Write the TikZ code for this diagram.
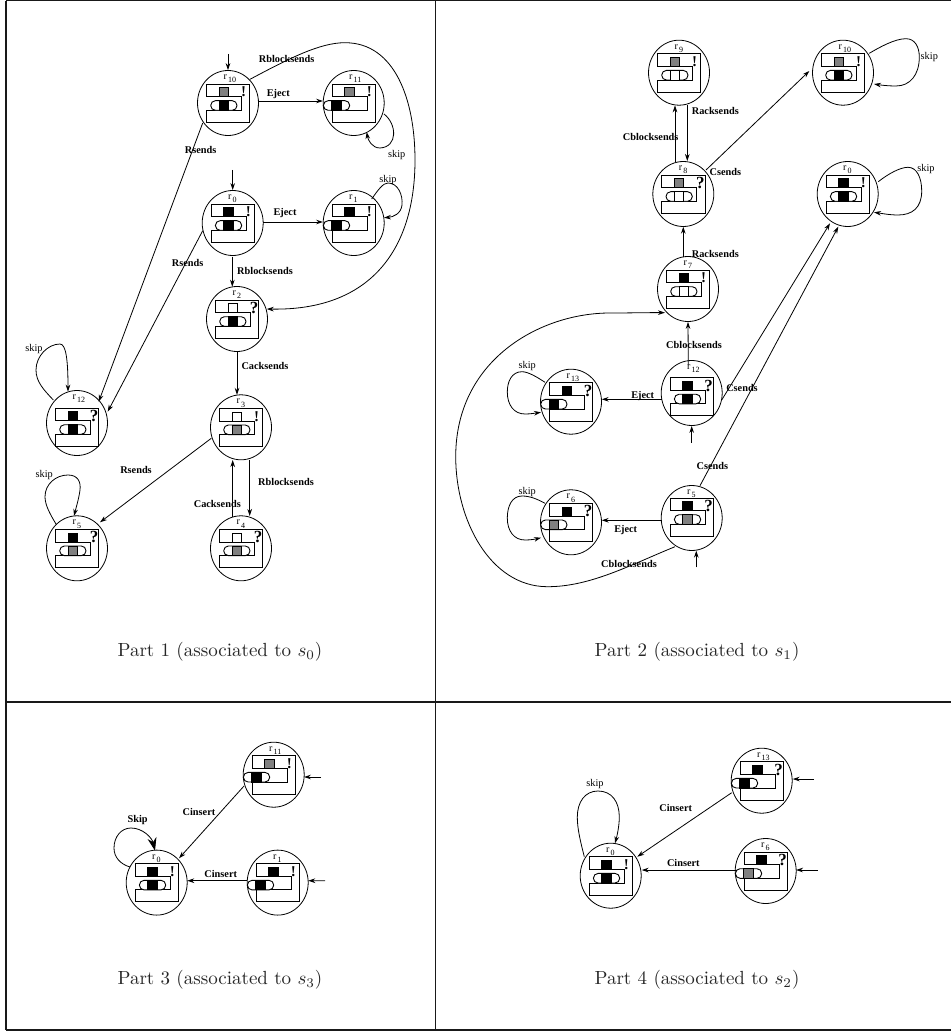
\documentclass[tikz,border=0pt]{standalone}
\usepackage{fontspec}
\newfontfamily\tms{Liberation Serif}
\usetikzlibrary{arrows.meta,calc,shapes.geometric}
\tikzset{
  statecirc/.style={draw,ellipse,minimum width=61pt,minimum height=65pt,inner sep=0pt,line width=.8pt},
  wire/.style={line width=.9pt},
  arr/.style={line width=.8pt,-{Stealth[length=7pt,width=4.6pt]}},
  bigarr/.style={line width=.8pt,-{Stealth[length=13pt,width=9pt]}},
  lab/.style={font=\tms\fontsize{10.3}{12}\selectfont\bfseries,inner sep=0pt},
  skiplab/.style={font=\tms\fontsize{10.3}{12}\selectfont,inner sep=0pt},
  caption/.style={font=\fontsize{10}{12}\selectfont,scale=1.9,transform shape,inner sep=0pt,text=black!85},
  frameline/.style={line width=1.4pt,draw=black!90},
}
% name, x, y, index, top square, capsule square, mark, capsule shift, vertical shift
\newcommand\St[9]{%
  \node[statecirc] (#1) at (#2,#3) {};
  \begin{scope}[shift={(#2,#3)}]
    \begin{scope}[shift={(0,#9)}]
      \draw[wire] (-21.7,-19) -- (21.7,-19) -- (21.7,19.3) -- (-21.7,19.3) -- (-21.7,7.3) -- (13.3,7.3) -- (13.3,-6.3) -- (-21.7,-6.3) -- cycle;
      \draw[wire,fill=#5] (-9,-15.3) rectangle (0.3,-6.3);
      \begin{scope}[shift={(#8,0)}]
        \draw[wire,fill=white,rounded corners=4.7pt] (-17.3,-2.3) rectangle (9,7.3);
        \draw[wire,fill=#6] (-9,-2.3) rectangle (0.3,7.3);
      \end{scope}
      \node[inner sep=0pt,font=\tms\bfseries] (#1m) at (#7) {\ifnum\pdfstrcmp{#7}{15.7,-11}=0 \fontsize{15}{15}\selectfont !\else \fontsize{17}{17}\selectfont ?\fi};
    \end{scope}
    \node[inner sep=0pt,anchor=base west,font=\tms\fontsize{10}{10}\selectfont] (#1t) at (-4.7,-23.4) {r\raisebox{-3.2pt}{\kern1.2pt\fontsize{8}{8}\selectfont #4}};
  \end{scope}
}
\begin{document}
\begin{tikzpicture}[x=1pt,y=-1pt]
\useasboundingbox (0,0) rectangle (951,1032);
% frame
\coordinate (fa) at (6,0.8);
\coordinate (fb) at (951,0.8);
\coordinate (fc) at (6,1030);
\coordinate (fd) at (951,1030);
\coordinate (fe) at (435.3,0.8);
\coordinate (ff) at (435.3,1030);
\coordinate (fg) at (6,702);
\coordinate (fh) at (951,702);
\draw[frameline,line width=1.7pt] (fa) -- (fc);
\draw[frameline] (fa) -- (fb) (fc) -- (fd) (fe) -- (ff);
\draw[frameline,line width=2.2pt] (fg) -- (fh);
% Part 1
\St{a10}{228}{103}{10}{gray}{black}{15.7,-11}{0}{0}
\St{a11}{353.7}{103}{11}{gray}{black}{15.7,-11}{-13}{0}
\St{a0}{232.7}{223}{0}{black}{black}{15.7,-11}{0}{0}
\St{a1}{353.7}{223}{1}{black}{black}{15.7,-11}{-13}{0}
\St{a2}{237}{319}{2}{white}{black}{17,-11}{0}{0}
\St{a3}{241}{427.3}{3}{white}{gray}{15.7,-11}{0}{0}
\St{a4}{241}{548.3}{4}{white}{gray}{17,-11}{0}{0}
\St{a12}{77}{423}{12}{black}{black}{17,-11}{0}{4}
\St{a5}{77}{548.3}{5}{black}{gray}{17,-11}{0}{0}
\coordinate (ia10) at (228,54);
\coordinate (ia0) at (232.7,170);
\draw[arr] (ia10) -- (a10.north);
\draw[arr] (ia0) -- (a0.north);
\draw[arr] ($(a10)+(31,-2)$) -- ($(a11)+(-30.7,-2)$);
\draw[arr] ($(a0)+(30.7,-1)$) -- ($(a1)+(-30.7,-1)$);
\draw[arr] ($(a11)+(30.3,11)$) .. controls (397,124) and (398,147) .. (380,148) .. controls (372,148) and (368,140) .. ($(a11)+(13,29)$);
\draw[arr] ($(a1)+(18,-24)$) .. controls (378,190) and (383,183) .. (388,183) .. controls (398,183) and (403,195) .. (402,205) .. controls (401,214) and (393,217) .. ($(a1)+(30.3,-5.3)$);
\draw[arr] ($(a10)+(22,-23.7)$) .. controls (290,58) and (320,42.7) .. (345,42.7) .. controls (395,42.7) and (415,100) .. (415,160) .. controls (415,250) and (370,311) .. ($(a2)+(29.7,-10)$);
\draw[arr] ($(a10)+(-25.3,20)$) -- ($(a12)+(21.7,-21.3)$);
\draw[arr] ($(a0)+(-30,7.7)$) -- ($(a12)+(30.7,-11.3)$);
\draw[arr] ($(a0)+(-0.4,33.7)$) -- ($(a2)+(-4.7,-32.3)$);
\draw[arr] (a2.south) -- ($(a3)+(-4,-32.5)$);
\draw[arr] ($(a3)+(-29.7,11)$) -- ($(a5)+(23,-26)$);
\draw[arr] ($(a3)+(8.7,32.7)$) -- ($(a4)+(8.7,-32.3)$);
\draw[arr] ($(a4)+(-8.3,-31.6)$) -- ($(a3)+(-8.3,32.7)$);
\draw[arr] ($(a12)+(-23.7,-23)$) .. controls (44,390) and (36,382) .. (36,370) .. controls (36,356) and (48,344) .. (60,344) .. controls (66,344) and (68,360) .. ($(a12)+(-9,-31.3)$);
\draw[arr] ($(a5)+(-21,-24.3)$) .. controls (50,514) and (45,505) .. (45,496.7) .. controls (45,484) and (56,475) .. (68,475) .. controls (78,475) and (81,482) .. (80,490) .. controls (79,498) and (76,508) .. ($(a5)+(-3,-32.3)$);
\node[lab] (l1) at (286.7,58.7) {Rblocksends};
\node[lab] (l2) at (278.3,93.7) {Eject};
\node[lab] (l3) at (285,212.7) {Eject};
\node[lab] (l4) at (200.7,149.7) {Rsends};
\node[lab] (l5) at (187.7,262.7) {Rsends};
\node[lab] (l6) at (265,270.7) {Rblocksends};
\node[lab] (l7) at (265,365.7) {Cacksends};
\node[lab] (l8) at (136,469.7) {Rsends};
\node[lab] (l9) at (286,482.3) {Rblocksends};
\node[lab] (l10) at (217.3,504.3) {Cacksends};
\node[skiplab] (s1) at (396.7,155) {skip};
\node[skiplab] (s2) at (388,180) {skip};
\node[skiplab] (s3) at (34,349) {skip};
\node[skiplab] (s4) at (44.3,475) {skip};
\node[caption] (cap1) at (220,651.7) {Part 1 (associated to $s_0$)};
% Part 2
\St{b9}{679}{72.7}{9}{gray}{white}{15.7,-11}{0}{0}
\St{b10}{843}{72.7}{10}{gray}{black}{15.7,-11}{0}{0}
\St{b8}{683.3}{194}{8}{gray}{white}{17,-11}{0}{0}
\St{b0}{847.7}{194}{0}{black}{black}{15.7,-11}{0}{0}
\St{b7}{688}{289}{7}{black}{white}{15.7,-11}{0}{0}
\St{b12}{691.7}{393}{12}{black}{black}{17,-11}{0}{3.5}
\St{b13}{571}{401.7}{13}{black}{black}{17,-11}{-13}{0}
\St{b5}{691.7}{518}{5}{black}{gray}{17,-11}{0}{-1}
\St{b6}{571}{522.3}{6}{black}{gray}{17,-11}{-13}{0}
\coordinate (ib12) at (691.7,442.7);
\coordinate (ib5) at (696.3,567.3);
\draw[arr] (ib12) -- (b12.south);
\draw[arr] (ib5) -- ($(b5)+(4.6,32.7)$);
\draw[arr] ($(b8)+(-8.3,-31.7)$) -- ($(b9)+(-4,32.6)$);
\draw[arr] ($(b9)+(8.3,32.6)$) -- ($(b8)+(4,-33)$);
\draw[arr] ($(b8)+(22.7,-24)$) -- ($(b10)+(-33.7,-1.7)$);
\draw[arr] ($(b10)+(26.3,-19.4)$) .. controls (880,47) and (895,38.7) .. (906,38.7) .. controls (915,38.7) and (919.3,47) .. (919.3,57) .. controls (919.3,75) and (910,86) .. (896,86) .. controls (888,86) and (880,85) .. ($(b10)+(31,11.3)$);
\draw[arr] ($(b0)+(30.6,-12.3)$) .. controls (888,174) and (900,167.3) .. (908,167.3) .. controls (917,167.3) and (921.7,178) .. (921.7,191) .. controls (921.7,208) and (912,215) .. (898,215) .. controls (890,215) and (882,213.5) .. ($(b0)+(26.3,18.3)$);
\draw[arr] ($(b7)+(-4.7,-32.3)$) -- ($(b8)+(0,32.7)$);
\draw[arr] ($(b12)+(-3.4,-28)$) -- (b7.south);
\draw[arr] ($(b12)+(30,7)$) -- ($(b0)+(-17.7,29.3)$);
\draw[arr] ($(b5)+(8.3,-32.3)$) -- ($(b0)+(-9.4,32.7)$);
\draw[arr] ($(b12)+(-30,6.3)$) -- ($(b13)+(30.7,-2.4)$);
\draw[arr] ($(b5)+(-30,2.3)$) -- ($(b6)+(30.7,-2)$);
\draw[arr] ($(b13)+(-26,-19.4)$) .. controls (537,377) and (528,371.7) .. (522,371.7) .. controls (512,371.7) and (507.3,381) .. (507.3,392) .. controls (507.3,405) and (514,414) .. (525,414) .. controls (531,414) and (536,413) .. ($(b13)+(-30,10.6)$);
\draw[arr] ($(b6)+(-26,-19)$) .. controls (537,499) and (530,496) .. (522,496) .. controls (512,496) and (507.3,506) .. (507.3,518) .. controls (507.3,531) and (514,540) .. (525,540) .. controls (531,540) and (536,539) .. ($(b6)+(-30,15.4)$);
\draw[arr] ($(b5)+(-16.7,28.7)$) .. controls (630,565) and (590,587) .. (546.7,586.7) .. controls (490,586) and (455.7,520) .. (455.7,456.7) .. controls (455.7,360) and (540,313) .. (610,313) .. controls (630,313) and (650,312.5) .. ($(b7)+(-23,23.7)$);
\node[lab] (l11) at (650.7,136.7) {Cblocksends};
\node[lab] (l12) at (715.3,110.7) {Racksends};
\node[lab] (l13) at (725.3,171.7) {Csends};
\node[lab] (l14) at (715.3,253.7) {Racksends};
\node[lab] (l15) at (694,344.7) {Cblocksends};
\node[lab] (l16) at (742,388) {Csends};
\node[lab] (l17) at (712.3,465.7) {Csends};
\node[lab] (l18) at (642.7,396) {Eject};
\node[lab] (l19) at (625.7,529.7) {Eject};
\node[lab] (l20) at (629,564.3) {Cblocksends};
\node[skiplab] (s5) at (929.3,56.7) {skip};
\node[skiplab] (s6) at (926,169) {skip};
\node[skiplab] (s7) at (527.3,366) {skip};
\node[skiplab] (s8) at (527.3,492) {skip};
\node[caption] (cap2) at (697,651.7) {Part 2 (associated to $s_1$)};
% Part 3
\St{c11}{273.7}{774.7}{11}{gray}{black}{15.7,-11}{-13}{0}
\St{c0}{156.7}{882.6}{0}{black}{black}{15.7,-11}{0}{0}
\St{c1}{277.7}{882.6}{1}{black}{black}{15.7,-11}{-13}{0}
\coordinate (ic11) at (321,777);
\coordinate (ic1) at (325,880.7);
\draw[arr] (ic11) -- ($(c11)+(30.3,2.3)$);
\draw[arr] (ic1) -- ($(c1)+(30.6,-1.9)$);
\draw[arr] ($(c11)+(-29.7,11.3)$) -- ($(c0)+(22.3,-24.3)$);
\draw[arr] ($(c1)+(-31,-1.9)$) -- ($(c0)+(30.6,-1.9)$);
\draw[bigarr] ($(c0)+(-26.7,-15.6)$) .. controls (120,864) and (114,857) .. (114,848) .. controls (114,837) and (121,828) .. (131,828) .. controls (143,828) and (152,838) .. ($(c0)+(-1.7,-31.9)$);
\node[lab] (l21) at (199,812.3) {Cinsert};
\node[lab] (l22) at (220.7,873.7) {Cinsert};
\node[lab] (l23) at (137.7,820) {Skip};
\node[caption] (cap3) at (220,980) {Part 3 (associated to $s_3$)};
% Part 4
\St{d13}{761.7}{780.7}{13}{black}{black}{17,-11}{-13}{0}
\St{d0}{610.7}{875.7}{0}{black}{black}{15.7,-11}{0}{0}
\St{d6}{765.7}{871}{6}{black}{gray}{17,-11}{-13}{0}
\coordinate (id13) at (814,779);
\coordinate (id6) at (817.7,870);
\draw[arr] (id13) -- ($(d13)+(31,-1.7)$);
\draw[arr] (id6) -- ($(d6)+(30.3,-1)$);
\draw[arr] ($(d13)+(-30,12)$) -- ($(d0)+(26.6,-19)$);
\draw[arr] ($(d6)+(-30,-1)$) -- ($(d0)+(31,-5.7)$);
\draw[arr] ($(d0)+(-26.4,-19)$) .. controls (580,840) and (577.3,828) .. (577.3,817) .. controls (577.3,802) and (585,791) .. (598,791) .. controls (612,791) and (619.3,802) .. (619.3,817) .. controls (619.3,826) and (617,836) .. ($(d0)+(4.3,-32.4)$);
\node[lab] (l24) at (675.7,808.3) {Cinsert};
\node[lab] (l25) at (683.3,862.7) {Cinsert};
\node[skiplab] (s9) at (595,783.7) {skip};
\node[caption] (cap4) at (697,980) {Part 4 (associated to $s_2$)};
\end{tikzpicture}
\end{document}
